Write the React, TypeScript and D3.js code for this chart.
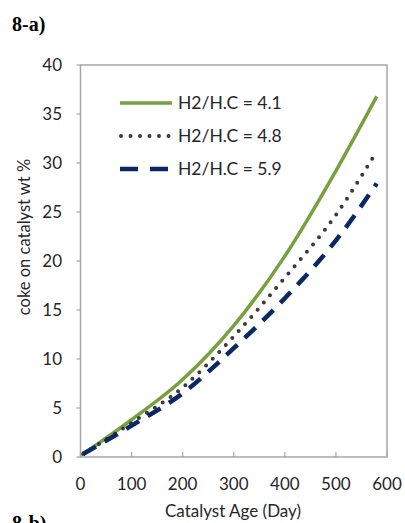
import React from "react";
import * as d3 from "d3";

const days = [5, 100, 200, 300, 400, 500, 580];
const ratio41 = [0.3, 3.8, 7.9, 13.4, 20.5, 29.2, 36.8];
const ratio48 = [0.3, 3.5, 7.1, 12.3, 18.3, 24.7, 31.2];
const ratio59 = [0.3, 3.2, 6.5, 11.1, 16.2, 22.1, 27.9];
const seriesNames = ["H2/H.C = 4.1", "H2/H.C = 4.8", "H2/H.C = 5.9"];
const xTicks = [0, 100, 200, 300, 400, 500, 600];
const yTicks = [0, 5, 10, 15, 20, 25, 30, 35, 40];

const W = 405;
const H = 523;
const L = 80.5, R = 387, T = 65, B = 457;
const FONT = "Lato, 'Open Sans', sans-serif";

export default function App() {
  const x = d3.scaleLinear().domain([0, 600]).range([L, R]);
  const y = d3.scaleLinear().domain([0, 40]).range([B, T]);
  const line = d3
    .line<[number, number]>()
    .x((d) => x(d[0]))
    .y((d) => y(d[1]))
    .curve(d3.curveMonotoneX);

  const styles = [
    { stroke: "#77a03e", width: 3.5, dash: undefined as string | undefined, cap: "butt" },
    { stroke: "#3a3a3a", width: 4, dash: "0 9.5", cap: "round" },
    { stroke: "#0a2766", width: 4.5, dash: "15 10", cap: "butt" },
  ];
  const data = [ratio41, ratio48, ratio59];

  return (
    <svg
      width={W}
      height={H}
      style={{ position: "absolute", left: 0, top: 0, background: "#fff" }}
      fontFamily={FONT}
    >
      <rect x={0} y={0} width={W} height={H} fill="#fff" />
      <text x={12} y={31} fontFamily="'Liberation Serif', 'Times New Roman', serif" fontWeight="bold" fontSize={20}>
        8-a)
      </text>
      <text x={12} y={530} fontFamily="'Liberation Serif', 'Times New Roman', serif" fontWeight="bold" fontSize={20}>
        8-b)
      </text>

      {/* frame */}
      <rect x={L} y={T} width={R - L} height={B - T} fill="none" stroke="#a6a6a6" strokeWidth={1.5} />

      {/* y ticks */}
      {yTicks.map((t) => (
        <g key={"y" + t}>
          <line x1={L - 4} x2={L} y1={y(t)} y2={y(t)} stroke="#a6a6a6" strokeWidth={1.2} />
          <text x={62} y={y(t)} dy="0.36em" textAnchor="end" fontSize={17} fill="#262626">
            {t}
          </text>
        </g>
      ))}
      {/* x ticks */}
      {xTicks.map((t) => (
        <g key={"x" + t}>
          <line x1={x(t)} x2={x(t)} y1={B} y2={B - 5} stroke="#a6a6a6" strokeWidth={1.2} />
          <text x={x(t)} y={490} textAnchor="middle" fontSize={17} fill="#262626">
            {t}
          </text>
        </g>
      ))}

      <text x={233} y={517} textAnchor="middle" fontSize={17} fill="#262626">
        Catalyst Age (Day)
      </text>
      <text
        transform={`translate(30,237) rotate(-90)`}
        textAnchor="middle"
        fontSize={16.5}
        fill="#262626"
      >
        coke on catalyst wt %
      </text>

      {/* series */}
      {data.map((vals, i) => (
        <path
          key={"s" + i}
          d={line(days.map((d, j) => [d, vals[j]] as [number, number])) || ""}
          fill="none"
          stroke={styles[i].stroke}
          strokeWidth={styles[i].width}
          strokeDasharray={styles[i].dash}
          strokeLinecap={styles[i].cap as any}
        />
      ))}

      {/* legend */}
      {seriesNames.map((n, i) => {
        const ly = 103 + i * 33;
        return (
          <g key={"l" + i}>
            <line
              x1={i === 1 ? 121 : 120}
              x2={i === 2 ? 168 : 172}
              y1={ly}
              y2={ly}
              stroke={styles[i].stroke}
              strokeWidth={styles[i].width}
              strokeDasharray={i === 2 ? "18 12" : styles[i].dash}
              strokeLinecap={styles[i].cap as any}
            />
            <text x={178} y={ly} dy="0.36em" fontSize={17.5} fill="#262626">
              {n}
            </text>
          </g>
        );
      })}
    </svg>
  );
}
